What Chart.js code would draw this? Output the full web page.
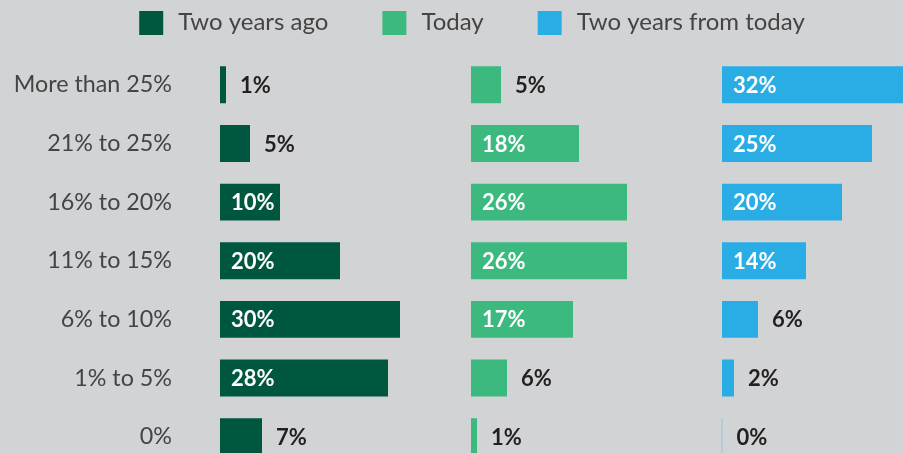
<!DOCTYPE html>
<html>
<head>
<meta charset="utf-8">
<script src="https://cdn.jsdelivr.net/npm/chart.js@4.4.1/dist/chart.umd.min.js"></script>
<style>
  html, body { margin: 0; padding: 0; background: #d2d3d5; overflow: hidden; }
  #chart { display: block; }
</style>
</head>
<body>
<canvas id="chart" width="973" height="466"></canvas>
<script>
// share of ... by range, three points in time
const categories = ['More than 25%', '21% to 25%', '16% to 20%', '11% to 15%', '6% to 10%', '1% to 5%', '0%'];
const seriesNames = ['Two years ago', 'Today', 'Two years from today'];
const twoYearsAgo = [1, 5, 10, 20, 30, 28, 7];
const today = [5, 18, 26, 26, 17, 6, 1];
const twoYearsFromToday = [32, 25, 20, 14, 6, 2, 0];

const colors = ['#00573f', '#3cb97f', '#2aade4'];
const FONT = 'Lato, "Open Sans", sans-serif';

// each panel is 251px wide, 6px per percentage point
const PANEL_PX = 251;
const PX_PER_PCT = 6;
const PANEL_SPAN = PANEL_PX / PX_PER_PCT;
const FULL_SPAN = 3 * PANEL_SPAN;

function panelAxis(i) {
    return {
        type: 'linear',
        display: false,
        min: -i * PANEL_SPAN,
        max: FULL_SPAN - i * PANEL_SPAN
    };
}

// legend drawn by hand so spacing can match
const legendPlugin = {
    id: 'topLegend',
    afterDraw(chart) {
        const ctx = chart.ctx;
        ctx.save();
        ctx.font = '24px ' + FONT;
        ctx.textBaseline = 'middle';
        const box = 24, gap = 15, itemGap = 54;
        const widths = seriesNames.map(n => box + gap + ctx.measureText(n).width);
        const total = widths.reduce((a, b) => a + b, 0) + itemGap * (widths.length - 1);
        let x = 472 - total / 2;
        seriesNames.forEach((name, i) => {
            ctx.fillStyle = colors[i];
            ctx.fillRect(x, 11, box, box);
            ctx.fillStyle = '#444444';
            ctx.textAlign = 'left';
            ctx.fillText(name, x + box + gap, 22);
            x += widths[i] + itemGap;
        });
        ctx.restore();
    }
};

// value labels: white inside long bars, dark to the right of short ones
const valueLabels = {
    id: 'valueLabels',
    afterDatasetsDraw(chart) {
        const ctx = chart.ctx;
        ctx.save();
        ctx.font = 'bold 22px ' + FONT;
        ctx.textBaseline = 'middle';
        ctx.textAlign = 'left';
        chart.data.datasets.forEach((ds, di) => {
            const meta = chart.getDatasetMeta(di);
            meta.data.forEach((bar, i) => {
                const v = ds.data[i];
                const txt = v + '%';
                if (v >= 10) {
                    ctx.fillStyle = '#ffffff';
                    ctx.fillText(txt, bar.base + 11, bar.y + 1);
                } else {
                    ctx.fillStyle = '#231f20';
                    ctx.fillText(txt, Math.max(bar.x, bar.base) + 14, bar.y + 1);
                }
            });
        });
        ctx.restore();
    }
};

const seriesData = [twoYearsAgo, today, twoYearsFromToday];

const datasets = seriesData.map((data, i) => ({
    label: seriesNames[i],
    data: data,
    xAxisID: 'x' + i,
    backgroundColor: i === 2
        ? (c) => (c.raw === 0 ? 'rgba(42,173,228,0.35)' : colors[2])
        : colors[i],
    borderWidth: 0,
    minBarLength: i === 2 ? 1 : 0,
    grouped: false,
    barPercentage: 0.63,
    categoryPercentage: 1
}));

new Chart(document.getElementById('chart'), {
    type: 'bar',
    data: { labels: categories, datasets },
    options: {
        indexAxis: 'y',
        responsive: false,
        animation: false,
        layout: { padding: { top: 55.5, bottom: 0, left: 0, right: 0 } },
        plugins: {
            legend: { display: false },
            tooltip: { enabled: false }
        },
        scales: {
            x0: panelAxis(0),
            x1: panelAxis(1),
            x2: panelAxis(2),
            y: {
                grid: { display: false, drawTicks: false },
                border: { display: false },
                ticks: {
                    color: '#444444',
                    font: { family: FONT, size: 23.3 },
                    padding: 48
                },
                afterFit: (s) => {
                    s.width = 220;
                    s.paddingTop = 0;
                    s.paddingBottom = 0;
                }
            }
        }
    },
    plugins: [legendPlugin, valueLabels]
});
</script>
</body>
</html>
